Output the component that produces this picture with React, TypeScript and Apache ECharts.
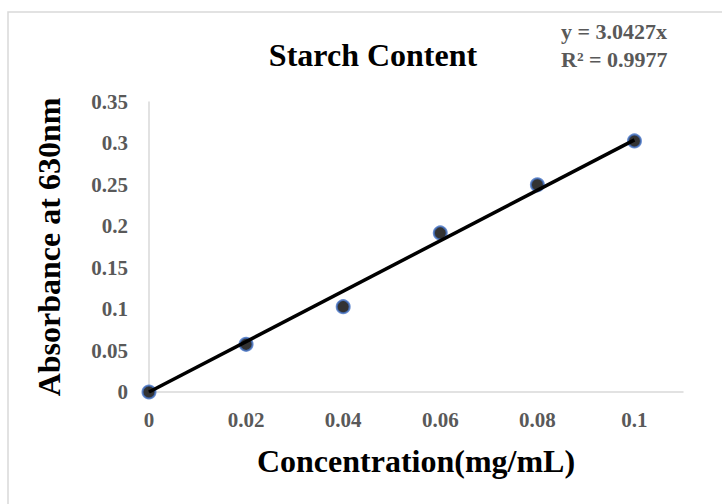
import React, { useEffect, useRef } from "react";
import * as echarts from "echarts";

const concentration = [0, 0.02, 0.04, 0.06, 0.08, 0.1];
const absorbance = [0, 0.0575, 0.103, 0.192, 0.25, 0.303];
const slope = 3.0427;
const xTicks = [0, 0.02, 0.04, 0.06, 0.08, 0.1];
const yTicks = [0, 0.05, 0.1, 0.15, 0.2, 0.25, 0.3, 0.35];
const equationText = "y = 3.0427x";
const r2Text = "R² = 0.9977";

const FONT = '"Times New Roman", "Liberation Serif", serif';

export default function App() {
  const ref = useRef<HTMLDivElement>(null);
  useEffect(() => {
    if (!ref.current) return;
    const chart = echarts.init(ref.current, undefined, { renderer: "svg" });
    const lastX = concentration[concentration.length - 1];
    const trend = [
      [0, 0],
      [lastX, slope * lastX],
    ];
    chart.setOption({
      animation: false,
      backgroundColor: "#ffffff",
      grid: { left: 149, right: 39, top: 102, bottom: 112, containLabel: false },
      graphic: [
        {
          type: "rect",
          shape: { x: 8, y: 12, width: 900, height: 700 },
          style: { fill: "none", stroke: "#d9d9d9", lineWidth: 1.5 },
          silent: true,
        },
        {
          type: "text",
          x: 373,
          y: 55,
          style: {
            text: "Starch Content",
            font: `bold 32px ${FONT}`,
            fill: "#000000",
            align: "center",
            verticalAlign: "middle",
          },
        },
        {
          type: "text",
          x: 561,
          y: 31,
          style: {
            text: equationText,
            font: `bold 22px ${FONT}`,
            fill: "#595959",
            align: "left",
            verticalAlign: "middle",
          },
        },
        {
          type: "text",
          x: 561,
          y: 59,
          style: {
            text: r2Text,
            font: `bold 22px ${FONT}`,
            fill: "#595959",
            align: "left",
            verticalAlign: "middle",
          },
        },
      ],
      xAxis: {
        type: "value",
        min: 0,
        max: 0.11,
        interval: 0.02,
        name: "Concentration(mg/mL)",
        nameLocation: "middle",
        nameGap: 53,
        nameTextStyle: { fontFamily: FONT, fontWeight: "bold", fontSize: 32, color: "#000000" },
        axisLine: { show: true, lineStyle: { color: "#d9d9d9", width: 1.5 } },
        axisTick: { show: false },
        splitLine: { show: false },
        axisLabel: {
          showMaxLabel: false,
          margin: 17,
          fontFamily: FONT,
          fontWeight: "bold",
          fontSize: 21,
          color: "#595959",
          formatter: (v: number) => {
            const t = xTicks.find((x) => Math.abs(x - v) < 1e-9);
            return t === undefined ? "" : String(t);
          },
        },
      },
      yAxis: {
        type: "value",
        min: 0,
        max: 0.35,
        interval: 0.05,
        name: "Absorbance at 630nm",
        nameLocation: "middle",
        nameGap: 84,
        nameRotate: 90,
        nameTextStyle: { fontFamily: FONT, fontWeight: "bold", fontSize: 32, color: "#000000" },
        axisLine: { show: true, lineStyle: { color: "#d9d9d9", width: 1.5 } },
        axisTick: { show: false },
        splitLine: { show: false },
        axisLabel: {
          margin: 21,
          fontFamily: FONT,
          fontWeight: "bold",
          fontSize: 21,
          color: "#595959",
          formatter: (v: number) => {
            const t = yTicks.find((y) => Math.abs(y - v) < 1e-9);
            return t === undefined ? "" : String(t);
          },
        },
      },
      series: [
        {
          type: "scatter",
          data: concentration.map((c, i) => [c, absorbance[i]]),
          symbol: "circle",
          symbolSize: 13,
          itemStyle: { color: "#000000", borderColor: "#4472c4", borderWidth: 2 },
          z: 2,
        },
        {
          type: "line",
          data: trend,
          showSymbol: false,
          symbol: "none",
          lineStyle: { color: "#000000", width: 3.5 },
          z: 3,
        },
      ],
    });
    return () => chart.dispose();
  }, []);
  return (
    <div
      ref={ref}
      style={{ position: "fixed", left: 0, top: 0, width: 722, height: 504 }}
    />
  );
}
